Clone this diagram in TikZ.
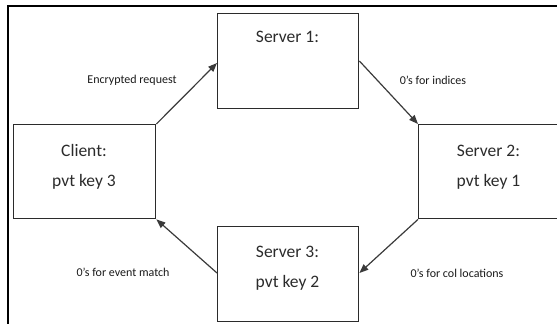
\documentclass[tikz,border=0pt]{standalone}
\usepackage{fontspec}
\setmainfont{Carlito}
\usetikzlibrary{arrows.meta}
\definecolor{ink}{HTML}{2B2B2B}
\definecolor{wire}{HTML}{3A3A3A}
\tikzset{
  party/.style={draw=ink, line width=1.4pt, rectangle, inner sep=0pt, anchor=north west},
  partytext/.style={text=ink, font=\fontsize{17.5}{30}\selectfont, align=center, inner sep=0pt},
  flow/.style={draw=wire, line width=1.2pt, -{Triangle[length=9pt,width=7pt]}},
  flowtext/.style={text=black!90, font=\fontsize{12}{14}\selectfont, inner sep=0pt},
}
\begin{document}
\begin{tikzpicture}[x=1pt, y=-1pt]
  \clip (0,0) rectangle (557,324);
  % outer frame: only the top and left edges are visible
  \draw[line width=2.5pt, black] (8,325) -- (8,6) -- (560,6);

  % the four parties
  \node[party, minimum width=141pt, minimum height=95pt] (s1) at (217,13) {};
  \node[party, minimum width=142pt, minimum height=94pt] (cl) at (13,124) {};
  \node[party, minimum width=142pt, minimum height=94pt] (s2) at (418,124) {};
  \node[party, minimum width=141pt, minimum height=95pt] (s3) at (217,226) {};

  % party captions
  \node[partytext] (s1t) at (287.5,37) {Server 1:};
  \node[partytext] (clt) at (84,167) {Client:\\pvt key 3};
  \node[partytext] (s2t) at (488.5,167) {Server 2:\\pvt key 1};
  \node[partytext] (s3t) at (287.5,268) {Server 3:\\pvt key 2};

  % message flow round the ring
  \draw[flow] (cl.north east) -- (s1.west |- 0,63);
  \draw[flow] (s1.east |- 0,61) -- (s2.north west);
  \draw[flow] (s2.south west) -- (s3.east |- 0,273);
  \draw[flow] (s3.west |- 0,273) -- (cl.south east);

  % message labels
  \node[flowtext] (l1) at (132,80) {Encrypted request};
  \node[flowtext] (l2) at (433,80) {0’s for indices};
  \node[flowtext] (l3) at (457,273) {0’s for col locations};
  \node[flowtext] (l4) at (123,272) {0’s for event match};
\end{tikzpicture}
\end{document}
